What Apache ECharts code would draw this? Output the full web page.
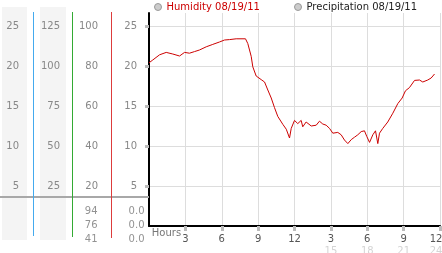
<!DOCTYPE html>
<html><head><meta charset="utf-8">
<script src="https://cdn.jsdelivr.net/npm/echarts@6/dist/echarts.min.js"></script>
<style>html,body{margin:0;padding:0;background:#fff}#c{width:442px;height:253px}</style>
</head><body><div id="c"></div>
<script>
const hours = [0,0.31,0.87,1.42,1.96,2.52,2.93,3.34,3.75,4.16,4.72,5.26,5.81,6.23,6.64,7.19,7.96,8.15,8.43,8.56,8.84,9.25,9.53,9.8,10.08,10.35,10.62,11.04,11.32,11.59,11.73,12.0,12.27,12.55,12.68,12.96,13.38,13.79,14.06,14.33,14.61,14.89,15.16,15.57,15.85,16.12,16.4,16.68,16.95,17.22,17.5,17.77,17.96,18.19,18.46,18.68,18.87,19.01,19.28,19.69,20.11,20.52,20.88,21.15,21.48,21.9,22.31,22.58,22.99,23.27,23.55];
const humidity = [20.4,20.75,21.4,21.7,21.5,21.25,21.7,21.6,21.8,22.0,22.4,22.7,23.0,23.25,23.3,23.4,23.4,22.8,21.2,19.9,18.75,18.3,18.0,17.0,16.0,14.8,13.7,12.7,12.1,11.0,12.2,13.2,12.8,13.2,12.4,13.0,12.5,12.6,13.1,12.75,12.6,12.2,11.6,11.7,11.4,10.75,10.3,10.8,11.1,11.4,11.8,11.9,11.2,10.45,11.4,11.9,10.3,11.6,12.2,13.0,14.1,15.3,16.0,16.9,17.3,18.2,18.25,18.0,18.25,18.5,19.0];
const precipitation = [];
const plotTicks = [5,10,15,20,25];
const col1Ticks = [5,10,15,20,25];
const col2Ticks = [25,50,75,100,125];
const col3Ticks = [20,40,60,80,100];
const xTickValues = [3,6,9,12,15,18,21,24];
const xLabels = ['Hours','3','6','9','12','3','6','9','12'];
const xLabels24 = ['','','','','','15','18','21','24'];
const tableHumidity = [94,76,41];
const tablePrecip = [0.0,0.0,0.0];

const FONT = 'DejaVu Sans';
const LBL = '#888';
const chart = echarts.init(document.getElementById('c'), null, {renderer:'canvas'});
const humName = 'Humidity 08/19/11', preName = 'Precipitation 08/19/11';

chart.setOption({
  animation:false,
  textStyle:{fontFamily:FONT},
  graphic:[
    {type:'rect', z:-5, shape:{x:2,y:7,width:25,height:233}, style:{fill:'#f4f4f4'}},
    {type:'rect', z:-5, shape:{x:40,y:7,width:26,height:233}, style:{fill:'#f4f4f4'}},
    {type:'line', z:1, shape:{x1:0,y1:197,x2:149,y2:197}, style:{stroke:'#a8a8a8', lineWidth:2}},
    {type:'line', z:2, shape:{x1:33.5,y1:12,x2:33.5,y2:236}, style:{stroke:'#44aaee', lineWidth:1}},
    {type:'line', z:2, shape:{x1:72.5,y1:12,x2:72.5,y2:237}, style:{stroke:'#33aa33', lineWidth:1}},
    {type:'line', z:2, shape:{x1:111.5,y1:12,x2:111.5,y2:238}, style:{stroke:'#dd3c3c', lineWidth:1}}
  ],
  legend:[
    {left:154, top:2, padding:0, itemWidth:7, itemHeight:7, icon:'circle',
     data:[{name:humName, textStyle:{color:'#cc0000'}, itemStyle:{color:'#ccc', borderColor:'#999', borderWidth:1}}],
     textStyle:{fontFamily:FONT, fontSize:10}},
    {left:294, top:2, padding:0, itemWidth:7, itemHeight:7, icon:'circle',
     data:[{name:preName, textStyle:{color:'#222'}, itemStyle:{color:'#ccc', borderColor:'#999', borderWidth:1}}],
     textStyle:{fontFamily:FONT, fontSize:10}}
  ],
  grid:[
    {left:149, right:2, top:13, bottom:27, outerBoundsMode:'none', containLabel:false},
    {left:111, width:38, top:12, bottom:16, outerBoundsMode:'none', containLabel:false},
    {left:98, width:47, top:211, height:28, outerBoundsMode:'none', containLabel:false}
  ],
  xAxis:[
    {gridIndex:0, type:'value', min:0, max:24, interval:3,
     axisLine:{show:true, lineStyle:{color:'#000', width:2}},
     axisTick:{show:true, customValues:xTickValues, length:5, lineStyle:{color:'#bbb', width:3}},
     splitLine:{show:true, lineStyle:{color:'#ddd', width:1}},
     axisLabel:{customValues:xTickValues, margin:8, fontSize:10, color:'#555', verticalAlign:'top',
       formatter:function(v){
         const i = Math.round(v/3);
         const last = i===8;
         return '{'+(last?'nr':'n')+'|'+xLabels[i]+'}\n{'+(last?'gr':'g')+'|'+(xLabels24[i]||' ')+'}';
       },
       rich:{
         n:{fontSize:10, color:'#555', lineHeight:10, fontFamily:FONT},
         g:{fontSize:10, color:'#d4d4d4', lineHeight:12, verticalAlign:'bottom', fontFamily:FONT},
         nr:{fontSize:10, color:'#555', lineHeight:10, padding:[0,8,0,0], fontFamily:FONT},
         gr:{fontSize:10, color:'#d4d4d4', lineHeight:12, verticalAlign:'bottom', padding:[0,8,0,0], fontFamily:FONT}
       }}},
    {gridIndex:1, type:'value', min:0, max:1, show:false},
    {gridIndex:2, type:'value', min:0, max:1, show:false},
    {gridIndex:0, type:'value', position:'bottom', min:0, max:24,
     axisLine:{show:false}, axisTick:{show:false}, splitLine:{show:false},
     axisLabel:{customValues:[0], margin:2, fontSize:10, color:'#777', verticalAlign:'top',
       formatter:()=>'{h|'+xLabels[0]+'}',
       rich:{h:{fontSize:10, color:'#777', padding:[0,0,0,35], fontFamily:FONT}}}}
  ],
  yAxis:[
    {gridIndex:0, type:'value', min:0, max:26.625,
     axisLine:{show:true, lineStyle:{color:'#000', width:2}},
     axisTick:{show:true, customValues:plotTicks, length:4, lineStyle:{color:'#bbb', width:3}},
     splitLine:{show:true, lineStyle:{color:'#ddd', width:1}},
     axisLabel:{customValues:plotTicks, margin:12, fontSize:10, color:LBL}},
    {gridIndex:1, type:'value', position:'left', offset:0, min:-5.5, max:107,
     axisLine:{show:false}, axisTick:{show:false}, splitLine:{show:false},
     axisLabel:{customValues:col3Ticks, margin:13, fontSize:10, color:LBL}},
    {gridIndex:1, type:'value', position:'left', offset:39, min:-6.875, max:133.75,
     axisLine:{show:false}, axisTick:{show:false}, splitLine:{show:false},
     axisLabel:{customValues:col2Ticks, margin:12, fontSize:10, color:LBL}},
    {gridIndex:1, type:'value', position:'left', offset:78, min:-1.375, max:26.75,
     axisLine:{show:false}, axisTick:{show:false}, splitLine:{show:false},
     axisLabel:{customValues:col1Ticks, margin:14, fontSize:10, color:LBL}},
    {gridIndex:2, type:'value', min:0, max:2, inverse:true, show:false}
  ],
  series:[
    {name:humName, type:'line', xAxisIndex:0, yAxisIndex:0, showSymbol:false, symbol:'none',
     data:hours.map((h,i)=>[h, humidity[i]]), lineStyle:{color:'#cc0000', width:1}, itemStyle:{color:'#cc0000'}},
    {name:preName, type:'line', xAxisIndex:0, yAxisIndex:0, showSymbol:false, data:precipitation,
     lineStyle:{color:'#888'}, itemStyle:{color:'#888'}},
    {type:'scatter', xAxisIndex:2, yAxisIndex:4, silent:true, symbolSize:1,
     itemStyle:{color:'rgba(0,0,0,0)'},
     data:tableHumidity.map((v,i)=>[0,i,v]),
     label:{show:true, position:'left', distance:0, fontSize:10, color:'#777', fontFamily:FONT,
       formatter:p=>String(p.value[2])}},
    {type:'scatter', xAxisIndex:2, yAxisIndex:4, silent:true, symbolSize:1,
     itemStyle:{color:'rgba(0,0,0,0)'},
     data:tablePrecip.map((v,i)=>[1,i,v]),
     label:{show:true, position:'left', distance:0, fontSize:10, color:'#777', fontFamily:FONT,
       formatter:p=>Number(p.value[2]).toFixed(1)}}
  ]
});
</script></body></html>
